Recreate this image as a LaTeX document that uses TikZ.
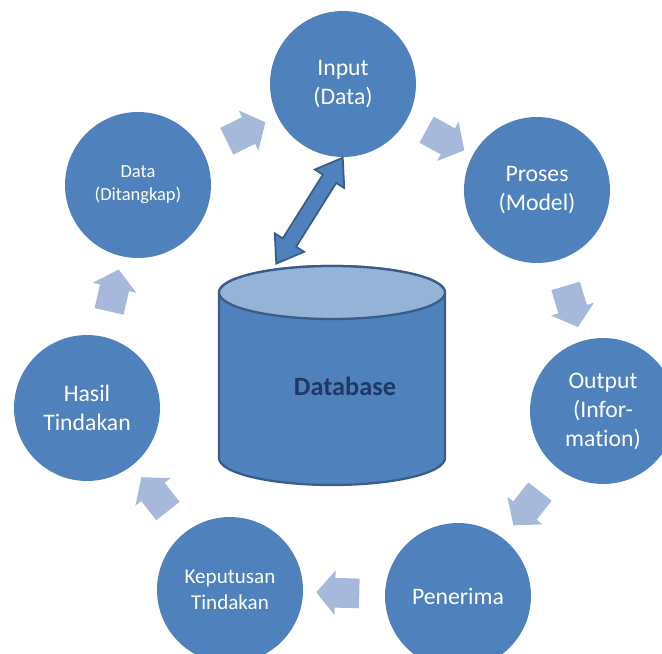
\documentclass[tikz,border=0pt]{standalone}
\usepackage{fontspec}
\setmainfont{Carlito}[Ligatures=NoCommon]
\usepackage{xcolor}
\usetikzlibrary{shapes.arrows, calc}

\definecolor{stageblue}{HTML}{4F81BD}
\definecolor{flowblue}{HTML}{A7B9DA}
\definecolor{dbedge}{HTML}{385D8A}
\definecolor{dbtopfill}{HTML}{95B3D7}
\definecolor{dbtext}{HTML}{1F3864}

\begin{document}
\begin{tikzpicture}[x=0.02cm, y=0.02cm,
    stage/.style={circle, fill=stageblue, minimum size=2.92cm, inner sep=0pt, align=center, text=white, font=\fontsize{13.5}{16.5}\selectfont},
    flow/.style={single arrow, fill=flowblue, minimum height=0.86cm, inner xsep=0pt, inner ysep=0.29cm, single arrow head extend=0.15cm, single arrow tip angle=100, sloped, allow upside down},
    link/.style={double arrow, fill=stageblue, draw=dbedge, line width=1pt, minimum height=2.5cm, inner xsep=0pt, inner ysep=0.14cm, double arrow head extend=0.19cm, double arrow tip angle=70, sloped, allow upside down}]
    \useasboundingbox (0,0) rectangle (662,-653);

    % ---------------- DATABASE ----------------
    \draw[dbedge, line width=1.3pt, fill=stageblue] (219,-292.5) -- (219,-458) arc[start angle=180, end angle=360, x radius=113, y radius=27] -- (445,-292.5) arc[start angle=0, end angle=180, x radius=113, y radius=26.5] -- cycle;
    \draw[dbedge, line width=1.3pt, fill=dbtopfill] (332,-292.5) ellipse [x radius=113, y radius=26.5];
    \node[text=dbtext, font=\fontsize{15}{18}\selectfont\bfseries] (db) at (345,-386) {Database};
    \coordinate (dbtop) at (276,-264);

    % ---------------- STAGES ----------------
    \node[stage] (inp) at (343,-84) {Input\\(Data)};
    \node[stage] (pro) at (537,-190) {Proses\\(Model)};
    \node[stage] (out) at (603,-411) {Output\\(Infor-\\mation)};
    \node[stage] (pen) at (458,-596) {Penerima};
    \node[stage, font=\fontsize{12}{14.5}\selectfont] (kep) at (230,-590) {Keputusan\\Tindakan};
    \node[stage] (has) at (87,-408) {Hasil\\Tindakan};
    \node[stage, font=\fontsize{10.5}{13}\selectfont] (dat) at (138,-185) {Data\\(Ditangkap)};

    % ---------------- FLOW ARROWS ----------------
    \path (dat) -- node[flow] (f1) {} (inp);
    \path (inp) -- node[flow] (f2) {} (pro);
    \path (pro) -- node[flow] (f3) {} (out);
    \path (out) -- node[flow] (f4) {} (pen);
    \path (pen) -- node[flow] (f5) {} (kep);
    \path (kep) -- node[flow] (f6) {} (has);
    \path (has) -- node[flow] (f7) {} (dat);

    % Database <-> Input
    \path (dbtop) -- node[link] (dl) {} (inp.south);
\end{tikzpicture}
\end{document}
